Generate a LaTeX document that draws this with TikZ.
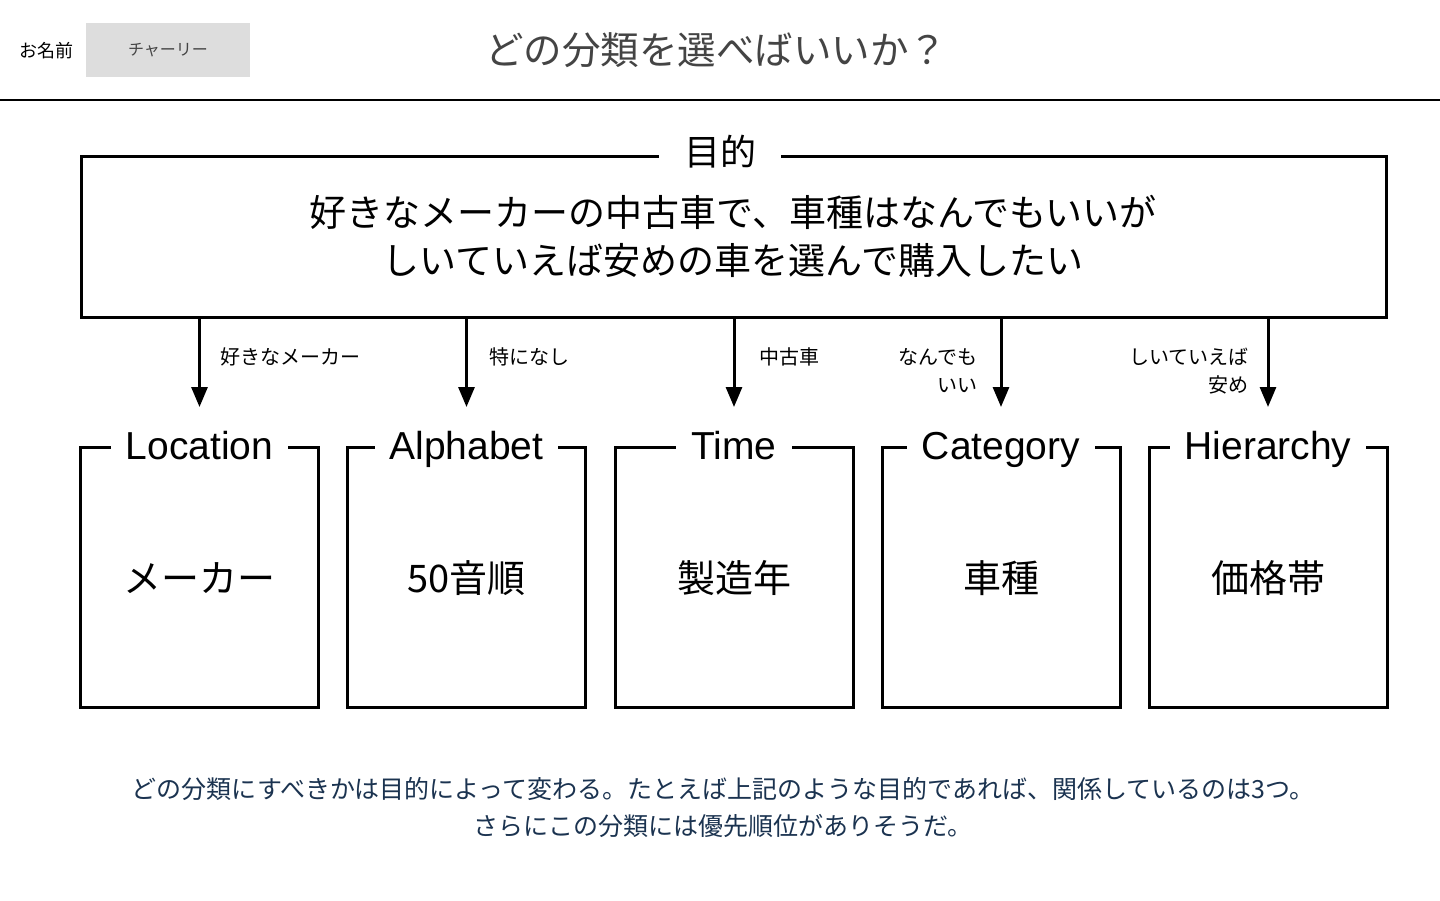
\documentclass[tikz,border=0pt]{standalone}
\usepackage{fontspec}
\setmainfont{Noto Sans CJK JP}
\newfontfamily\latfont{Liberation Sans}
\usetikzlibrary{arrows.meta,calc}
\definecolor{titlegray}{HTML}{444444}
\definecolor{footnavy}{HTML}{1B3350}
\definecolor{namebox}{HTML}{DDDDDD}
\tikzset{
  heavy/.style={draw=black,line width=3pt},
  catbox/.style={heavy,minimum width=238pt,minimum height=260pt,inner sep=0pt},
  cattitle/.style={fill=white,inner xsep=15pt,inner ysep=2pt,text height=29pt,text depth=8pt,anchor=base,font=\latfont\fontsize{39}{42}\selectfont},
  catbody/.style={font=\fontsize{38}{42}\selectfont},
  arr/.style={line width=3pt,-{Triangle[length=20pt,width=16pt]}},
  lbl/.style={font=\fontsize{20}{28}\selectfont,inner sep=0pt}
}
\begin{document}
\begin{tikzpicture}[x=1pt,y=-1pt]
\useasboundingbox[fill=white] (0,0) rectangle (1440,900);

% header
\node[anchor=west,font=\fontsize{18}{20}\selectfont,inner sep=0pt] (namelabel) at (19,51) {お名前};
\node[fill=namebox,minimum width=164pt,minimum height=54pt,inner sep=0pt,text=titlegray,font=\fontsize{16}{20}\selectfont] (name) at (168,50) {チャーリー};
\node[text=titlegray,font=\fontsize{38.5}{42}\selectfont] (title) at (716,50) {どの分類を選べばいいか？};
\coordinate (ruleL) at (0,100);
\coordinate (ruleR) at (1440,100);
\draw[line width=1.5pt] (ruleL) -- (ruleR);

% goal box
\node[heavy,minimum width=1305pt,minimum height=161pt,inner sep=0pt,anchor=north west] (main) at (80,155) {};
\node[fill=white,inner xsep=25pt,inner ysep=2pt,font=\fontsize{36}{40}\selectfont] (goal) at (720,152) {目的};
\node[align=center,font=\fontsize{37}{48}\selectfont] (goaltext) at (733,236) {好きなメーカーの中古車で、車種はなんでもいいが\\しいていえば安めの車を選んで購入したい};

% category boxes
\foreach \nm/\x/\ttl/\body in {L/199.5/Location/メーカー, A/466.5/Alphabet/50音順, T/734/Time/製造年, C/1001/Category/車種, H/1268/Hierarchy/価格帯}{
  \node[catbox] (\nm) at (\x,577.5) {};
  \node[cattitle] (\nm title) at (\x,459) {\ttl};
  \node[catbody] (\nm body) at (\x,578) {\body};
  \coordinate (\nm tip) at ($(\nm.north)+(0,-39)$);
  \draw[arr] (main.south -| \nm) -- (\nm tip);
}

% arrow labels
\node[lbl,anchor=west] (lL) at (220,357) {好きなメーカー};
\node[lbl,anchor=west] (lA) at (489,357) {特になし};
\node[lbl,anchor=west] (lT) at (759,357) {中古車};
\node[lbl,anchor=east,align=right] (lC) at (978,371) {なんでも\\いい};
\node[lbl,anchor=east,align=right] (lH) at (1249,371) {しいていえば\\安め};

% footer
\node[align=center,text=footnavy,font=\fontsize{25}{37}\selectfont] (foot) at (723,807) {どの分類にすべきかは目的によって変わる。たとえば上記のような目的であれば、関係しているのは3つ。\\さらにこの分類には優先順位がありそうだ。};
\end{tikzpicture}
\end{document}
